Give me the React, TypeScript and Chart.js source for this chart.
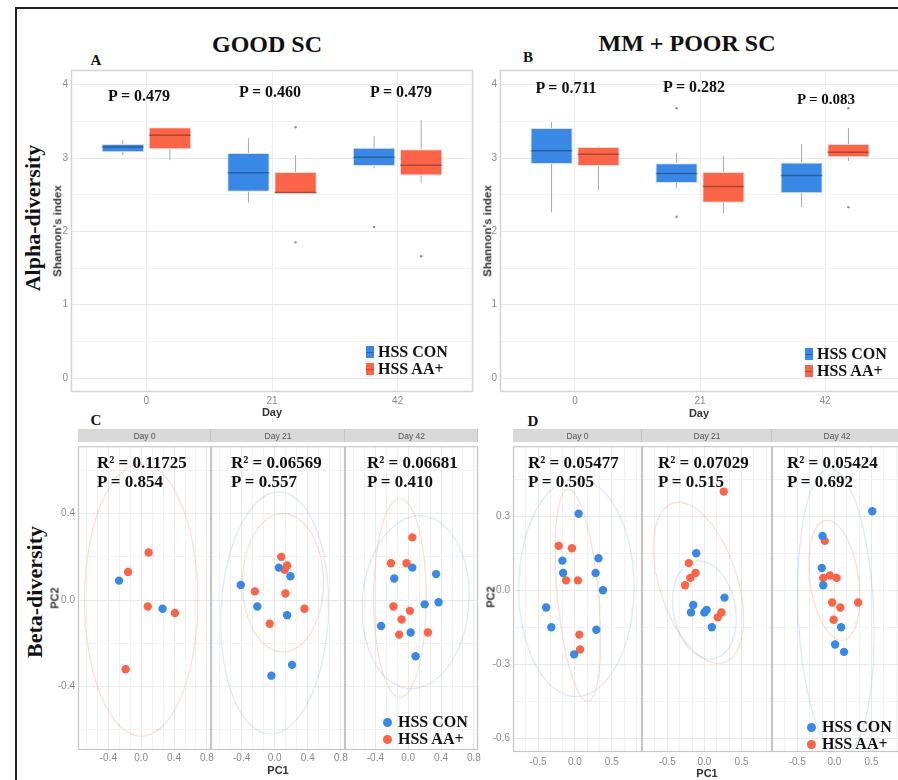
import React, { useEffect, useRef } from 'react';
import { Chart, registerables } from 'chart.js';

Chart.register(...registerables);

const SERIF = "'Liberation Serif', 'Times New Roman', serif";
const SANS = "'Liberation Sans', Arial, sans-serif";
const NARROW = "'Liberation Sans Narrow', 'Liberation Sans', Arial, sans-serif";
const BLUE = '#3a88e6';
const RED = '#fb6446';
const BLUE_ELL = 'rgba(90,150,225,0.22)';
const RED_ELL = 'rgba(245,120,100,0.25)';

// ---------- Alpha diversity (Shannon's index) ----------
const days = ['0', '21', '42'];
const groupLabels = ['HSS CON', 'HSS AA+'];
const shannonTicks = [0, 1, 2, 3, 4];

const goodP = ['P = 0.479', 'P = 0.460', 'P = 0.479'];
const goodConQ1 = [3.08, 2.54, 2.89];
const goodConQ3 = [3.19, 3.07, 3.14];
const goodConMed = [3.15, 2.8, 3.01];
const goodConLo = [3.04, 2.39, 2.86];
const goodConHi = [3.25, 3.27, 3.3];
const goodConOut = [[], [], [2.06]];
const goodAaQ1 = [3.12, 2.51, 2.76];
const goodAaQ3 = [3.42, 2.81, 3.12];
const goodAaMed = [3.31, 2.53, 2.9];
const goodAaLo = [2.97, 2.51, 2.66];
const goodAaHi = [3.42, 3.04, 3.52];
const goodAaOut = [[], [3.42, 1.85], [1.66]];

const poorP = ['P = 0.711', 'P = 0.282', 'P = 0.083'];
const poorConQ1 = [2.92, 2.66, 2.52];
const poorConQ3 = [3.41, 2.93, 2.94];
const poorConMed = [3.1, 2.79, 2.76];
const poorConLo = [2.26, 2.59, 2.33];
const poorConHi = [3.49, 3.07, 3.19];
const poorConOut = [[], [3.68, 2.2], []];
const poorAaQ1 = [2.89, 2.39, 3.01];
const poorAaQ3 = [3.15, 2.81, 3.19];
const poorAaMed = [3.05, 2.61, 3.08];
const poorAaLo = [2.56, 2.25, 2.96];
const poorAaHi = [3.16, 3.03, 3.41];
const poorAaOut = [[], [], [3.68, 2.33]];

// ---------- Beta diversity (PCA) ----------
const facetLabels = ['Day 0', 'Day 21', 'Day 42'];
const goodR2 = ['R\u00b2 = 0.11725', 'R\u00b2 = 0.06569', 'R\u00b2 = 0.06681'];
const goodBetaP = ['P = 0.854', 'P = 0.557', 'P = 0.410'];
const poorR2 = ['R\u00b2 = 0.05477', 'R\u00b2 = 0.07029', 'R\u00b2 = 0.05424'];
const poorBetaP = ['P = 0.505', 'P = 0.515', 'P = 0.692'];

// [PC1, PC2]
const goodDay0Con = [[-0.27, 0.09], [0.26, -0.04]];
const goodDay0Aa = [[-0.16, 0.13], [0.09, 0.22], [0.08, -0.03], [0.41, -0.06], [-0.19, -0.32]];
const goodDay21Con = [[-0.41, 0.07], [0.05, 0.15], [0.19, 0.11], [-0.21, -0.03], [0.15, -0.07], [-0.04, -0.35], [0.21, -0.3]];
const goodDay21Aa = [[-0.24, 0.04], [0.08, 0.2], [0.15, 0.16], [0.12, 0.14], [0.13, 0.03], [0.36, -0.04], [-0.06, -0.11]];
const goodDay42Con = [[0.05, 0.15], [-0.17, 0.1], [0.34, 0.12], [0.2, -0.02], [0.37, -0.01], [-0.33, -0.12], [0.03, -0.15], [0.09, -0.26]];
const goodDay42Aa = [[0.05, 0.29], [-0.21, 0.17], [-0.02, 0.17], [-0.18, -0.03], [0.02, -0.05], [-0.08, -0.09], [-0.11, -0.16], [0.24, -0.15]];

const poorDay0Con = [[0.05, 0.31], [-0.17, 0.12], [0.32, 0.13], [-0.16, 0.07], [0.28, 0.07], [0.38, 0.0], [-0.39, -0.07], [-0.32, -0.15], [0.29, -0.16], [-0.01, -0.26]];
const poorDay0Aa = [[-0.22, 0.18], [-0.04, 0.17], [-0.12, 0.04], [0.04, 0.04], [0.06, -0.18], [0.07, -0.24]];
const poorDay21Con = [[-0.11, 0.15], [0.27, -0.03], [-0.15, -0.06], [-0.18, -0.09], [0.03, -0.08], [0.0, -0.09], [0.1, -0.15]];
const poorDay21Aa = [[0.26, 0.4], [-0.21, 0.11], [-0.12, 0.07], [-0.19, 0.05], [-0.26, 0.02], [0.23, -0.09], [0.18, -0.11]];
const poorDay42Con = [[0.51, 0.32], [-0.16, 0.22], [-0.17, 0.09], [-0.15, 0.02], [0.09, -0.15], [0.01, -0.22], [0.13, -0.25]];
const poorDay42Aa = [[-0.13, 0.2], [-0.15, 0.05], [-0.06, 0.06], [0.03, 0.05], [-0.03, -0.05], [0.08, -0.07], [0.32, -0.05], [-0.01, -0.12]];

// confidence ellipses: [centre PC1, centre PC2, a_x, a_y, b_x, b_y]
const goodDay0ConEll: number[] | null = null;
const goodDay0AaEll = [0.0, 0.0, 0.0, 0.63, 0.69, 0.0];
const goodDay21ConEll = [0.0, -0.06, 0.05, 0.56, 0.65, 0.0];
const goodDay21AaEll = [0.1, 0.08, 0.0, 0.32, 0.49, 0.0];
const goodDay42ConEll = [0.09, -0.01, 0.05, 0.4, 0.65, 0.0];
const goodDay42AaEll = [-0.1, 0.01, 0.0, 0.46, 0.32, 0.0];
const poorDay0ConEll = [0.02, 0.01, -0.05, 0.44, 0.78, 0.03];
const poorDay0AaEll = [0.04, -0.02, -0.13, 0.43, 0.28, 0.0];
const poorDay21ConEll = [0.0, -0.08, 0.2, -0.19, -0.38, -0.06];
const poorDay21AaEll = [-0.08, 0.03, 0.345, -0.323, -0.5, -0.047];
const poorDay42ConEll = [0.02, -0.09, -0.12, 0.58, 0.5, 0.05];
const poorDay42AaEll = [0.0, 0.04, -0.2, 0.23, 0.28, 0.08];

// ---------- helpers ----------
const tickFont = { family: NARROW, size: 10 };
const isMajor = (v: number, step: number) => Math.abs(v / step - Math.round(v / step)) < 1e-3;
const fmt1 = (v: number) => {
  const r = Math.round(v * 10) / 10;
  return (Math.abs(r) < 1e-9 ? 0 : r).toFixed(1);
};

const frame = {
  id: 'frame',
  afterDraw(chart: any, _a: any, opts: any) {
    const { left, top, right, bottom } = chart.chartArea;
    const ctx = chart.ctx;
    ctx.save();
    ctx.strokeStyle = opts.color || '#ccc';
    ctx.lineWidth = opts.width || 1;
    ctx.strokeRect(left + 0.5, top + 0.5, right - left - 1, bottom - top - 1);
    ctx.restore();
  },
};

const boxExtras = {
  id: 'boxExtras',
  afterDatasetsDraw(chart: any) {
    const ctx = chart.ctx;
    const ys = chart.scales.y;
    chart.data.datasets.forEach((ds: any, di: number) => {
      const meta = chart.getDatasetMeta(di);
      meta.data.forEach((el: any, i: number) => {
        const { x, width } = el.getProps(['x', 'width'], true);
        const q1 = ds.data[i].y[0];
        const q3 = ds.data[i].y[1];
        ctx.save();
        ctx.strokeStyle = '#a9a9a9';
        ctx.lineWidth = 1;
        ctx.beginPath();
        ctx.moveTo(x, ys.getPixelForValue(q3));
        ctx.lineTo(x, ys.getPixelForValue(ds.hi[i]));
        ctx.moveTo(x, ys.getPixelForValue(q1));
        ctx.lineTo(x, ys.getPixelForValue(ds.lo[i]));
        ctx.stroke();
        ctx.strokeStyle = 'rgba(0,0,0,0.3)';
        ctx.lineWidth = 1.5;
        const my = ys.getPixelForValue(ds.med[i]);
        ctx.beginPath();
        ctx.moveTo(x - width / 2, my);
        ctx.lineTo(x + width / 2, my);
        ctx.stroke();
        ctx.fillStyle = '#8c8c8c';
        ds.out[i].forEach((v: number) => {
          ctx.beginPath();
          ctx.arc(x, ys.getPixelForValue(v), 1.2, 0, Math.PI * 2);
          ctx.fill();
        });
        ctx.restore();
      });
    });
  },
};

type BoxSet = { q1: number[]; q3: number[]; med: number[]; lo: number[]; hi: number[]; out: number[][] };

function boxConfig(sets: BoxSet[], yAxisW: number, padRight: number) {
  return {
    type: 'bar',
    data: {
      datasets: sets.map((s, gi) => ({
        label: groupLabels[gi],
        data: s.q1.map((q, i) => ({ x: i + 1, y: [q, s.q3[i]] })),
        backgroundColor: gi === 0 ? BLUE : RED,
        borderColor: 'rgba(0,0,0,0.12)',
        borderWidth: 1,
        borderSkipped: false,
        categoryPercentage: 0.75,
        barPercentage: 0.9,
        med: s.med,
        lo: s.lo,
        hi: s.hi,
        out: s.out,
      })),
    },
    plugins: [boxExtras, frame],
    options: {
      animation: false,
      responsive: false,
      devicePixelRatio: 1,
      events: [],
      layout: { padding: { top: 10, right: padRight, left: 0, bottom: 0 } },
      plugins: {
        legend: { display: false },
        tooltip: { enabled: false },
        frame: { color: '#d3d3d3', width: 1.5 },
      },
      scales: {
        x: {
          type: 'linear',
          min: 0.4,
          max: 3.6,
          offset: false,
          afterBuildTicks: (s: any) => {
            s.ticks = days.map((_, i) => ({ value: i + 1 }));
          },
          afterFit: (s: any) => {
            s.height = 28;
            s.paddingLeft = 0;
            s.paddingRight = 0;
          },
          ticks: {
            callback: (v: number) => days[Math.round(v) - 1] ?? '',
            color: '#8a8a8a',
            font: tickFont,
            padding: 3,
            autoSkip: false,
            maxRotation: 0,
          },
          grid: { color: '#ececec', drawTicks: false, offset: false },
          border: { display: false },
        },
        y: {
          type: 'linear',
          min: -0.19,
          max: 4.2,
          afterFit: (s: any) => {
            s.width = yAxisW;
            s.paddingTop = 0;
            s.paddingBottom = 0;
          },
          ticks: {
            stepSize: 0.5,
            includeBounds: false,
            autoSkip: false,
            callback: (v: number) => (shannonTicks.some((t) => Math.abs(t - v) < 1e-6) ? String(Math.round(v)) : ''),
            color: '#8a8a8a',
            font: tickFont,
            padding: 3,
          },
          grid: {
            color: (c: any) => (c.tick && isMajor(c.tick.value, 1) ? '#e8e8e8' : '#f2f2f2'),
            drawTicks: false,
          },
          border: { display: false },
        },
      },
    },
  };
}

function ellipsePoints(e: number[] | null) {
  if (!e) return [];
  const [cx, cy, ax, ay, bx, by] = e;
  const pts = [];
  for (let k = 0; k <= 96; k++) {
    const t = (k / 96) * Math.PI * 2;
    pts.push({ x: cx + ax * Math.cos(t) + bx * Math.sin(t), y: cy + ay * Math.cos(t) + by * Math.sin(t) });
  }
  return pts;
}

type FacetOpts = {
  con: number[][];
  aa: number[][];
  conEll: number[] | null;
  aaEll: number[] | null;
  xMin: number;
  xMax: number;
  xStep: number;
  xMajor: number;
  yMin: number;
  yMax: number;
  yStep: number;
  yMajor: number;
  showY: boolean;
  yAxisW: number;
  xAxisH: number;
  xPad: number;
};

function facetConfig(o: FacetOpts) {
  return {
    type: 'scatter',
    data: {
      datasets: [
        {
          label: groupLabels[0],
          data: o.con.map(([x, y]) => ({ x, y })),
          backgroundColor: BLUE,
          borderWidth: 0,
          pointRadius: 4.2,
        },
        {
          label: groupLabels[1],
          data: o.aa.map(([x, y]) => ({ x, y })),
          backgroundColor: RED,
          borderWidth: 0,
          pointRadius: 4.2,
        },
        {
          label: 'ell-con',
          data: ellipsePoints(o.conEll),
          showLine: true,
          pointRadius: 0,
          borderColor: BLUE_ELL,
          borderWidth: 1.2,
          fill: false,
        },
        {
          label: 'ell-aa',
          data: ellipsePoints(o.aaEll),
          showLine: true,
          pointRadius: 0,
          borderColor: RED_ELL,
          borderWidth: 1.2,
          fill: false,
        },
      ],
    },
    plugins: [frame],
    options: {
      animation: false,
      responsive: false,
      devicePixelRatio: 1,
      events: [],
      layout: { padding: { top: 0, right: 10, left: 0, bottom: 0 } },
      plugins: {
        legend: { display: false },
        tooltip: { enabled: false },
        frame: { color: '#c6c6c6', width: 1.2 },
      },
      scales: {
        x: {
          type: 'linear',
          min: o.xMin,
          max: o.xMax,
          afterFit: (s: any) => {
            s.height = o.xAxisH;
            s.paddingLeft = 0;
            s.paddingRight = 0;
          },
          ticks: {
            stepSize: o.xStep,
            includeBounds: false,
            autoSkip: false,
            maxRotation: 0,
            callback: (v: number) => (isMajor(v, o.xMajor) ? fmt1(v) : ''),
            color: '#8a8a8a',
            font: tickFont,
            padding: o.xPad,
          },
          grid: {
            color: (c: any) => (c.tick && isMajor(c.tick.value, o.xMajor) ? '#e9e9e9' : '#f1f1f1'),
            drawTicks: false,
          },
          border: { display: false },
        },
        y: {
          type: 'linear',
          min: o.yMin,
          max: o.yMax,
          afterFit: (s: any) => {
            s.width = o.yAxisW;
            s.paddingTop = 0;
            s.paddingBottom = 0;
          },
          ticks: {
            display: o.showY,
            stepSize: o.yStep,
            includeBounds: false,
            autoSkip: false,
            callback: (v: number) => (isMajor(v, o.yMajor) ? fmt1(v) : ''),
            color: '#8a8a8a',
            font: tickFont,
            padding: 3,
          },
          grid: {
            color: (c: any) => (c.tick && isMajor(c.tick.value, o.yMajor) ? '#e9e9e9' : '#f1f1f1'),
            drawTicks: false,
          },
          border: { display: false },
        },
      },
    },
  };
}

function ChartBox({ left, top, width, height, make }: { left: number; top: number; width: number; height: number; make: () => any }) {
  const ref = useRef<HTMLCanvasElement>(null);
  useEffect(() => {
    const chart = new Chart(ref.current as HTMLCanvasElement, make());
    return () => chart.destroy();
  }, []);
  return <canvas ref={ref} width={width} height={height} style={{ position: 'absolute', left, top, width, height }} />;
}

function Txt({
  x, y, children, size = 16, bold = true, family = SERIF, color = '#111', align = 'center', rotate = 0,
}: {
  x: number; y: number; children: React.ReactNode; size?: number; bold?: boolean; family?: string; color?: string; align?: 'center' | 'left'; rotate?: number;
}) {
  const tx = align === 'center' ? '-50%' : '0';
  return (
    <div
      style={{
        position: 'absolute', left: x, top: y, transform: `translate(${tx},-50%) rotate(${rotate}deg)`,
        fontFamily: family, fontSize: size, fontWeight: bold ? 700 : 400, color, whiteSpace: 'nowrap', lineHeight: 1,
      }}
    >
      {children}
    </div>
  );
}

function BoxLegend({ x, y }: { x: number; y: number }) {
  return (
    <>
      {[BLUE, RED].map((c, i) => (
        <React.Fragment key={i}>
          <div style={{ position: 'absolute', left: x, top: y + i * 17 - 6, width: 8, height: 12, background: c }} />
          <div style={{ position: 'absolute', left: x, top: y + i * 17, width: 8, height: 1, background: 'rgba(0,0,0,0.25)' }} />
          <Txt x={x + 12} y={y + i * 17} align="left" size={16}>{groupLabels[i]}</Txt>
        </React.Fragment>
      ))}
    </>
  );
}

function DotLegend({ x, y }: { x: number; y: number }) {
  return (
    <>
      {[BLUE, RED].map((c, i) => (
        <React.Fragment key={i}>
          <div style={{ position: 'absolute', left: x - 4.5, top: y + i * 17 - 4.5, width: 9, height: 9, borderRadius: '50%', background: c }} />
          <Txt x={x + 11} y={y + i * 17} align="left" size={16}>{groupLabels[i]}</Txt>
        </React.Fragment>
      ))}
    </>
  );
}

const cRange = { xMin: -0.77, xMax: 0.85, xStep: 0.4 / 3, xMajor: 0.4, yMin: -0.694, yMax: 0.712, yStep: 0.2, yMajor: 0.4, xAxisH: 22, xPad: 2 };
const dRange = { xMin: -0.84, xMax: 0.91, xStep: 0.5 / 3, xMajor: 0.5, yMin: -0.656, yMax: 0.584, yStep: 0.15, yMajor: 0.3, xAxisH: 20, xPad: 4 };

const goodFacets = [
  { con: goodDay0Con, aa: goodDay0Aa, conEll: goodDay0ConEll, aaEll: goodDay0AaEll },
  { con: goodDay21Con, aa: goodDay21Aa, conEll: goodDay21ConEll, aaEll: goodDay21AaEll },
  { con: goodDay42Con, aa: goodDay42Aa, conEll: goodDay42ConEll, aaEll: goodDay42AaEll },
];
const poorFacets = [
  { con: poorDay0Con, aa: poorDay0Aa, conEll: poorDay0ConEll, aaEll: poorDay0AaEll },
  { con: poorDay21Con, aa: poorDay21Aa, conEll: poorDay21ConEll, aaEll: poorDay21AaEll },
  { con: poorDay42Con, aa: poorDay42Aa, conEll: poorDay42ConEll, aaEll: poorDay42AaEll },
];

// facet geometry: [canvas left, canvas width, y-axis width, plot left, plot right]
const cFacetBoxes = [[38, 183, 40, 78, 211], [201, 154, 10, 211, 345], [335, 153, 10, 345, 478]];
const dFacetBoxes = [[473, 179, 40, 513, 642], [632, 150, 10, 642, 772], [762, 150, 10, 772, 902]];
const cTextX = [97, 231, 367];
const dTextX = [528, 658, 787];

export default function App() {
  const goodSets: BoxSet[] = [
    { q1: goodConQ1, q3: goodConQ3, med: goodConMed, lo: goodConLo, hi: goodConHi, out: goodConOut },
    { q1: goodAaQ1, q3: goodAaQ3, med: goodAaMed, lo: goodAaLo, hi: goodAaHi, out: goodAaOut },
  ];
  const poorSets: BoxSet[] = [
    { q1: poorConQ1, q3: poorConQ3, med: poorConMed, lo: poorConLo, hi: poorConHi, out: poorConOut },
    { q1: poorAaQ1, q3: poorAaQ3, med: poorAaMed, lo: poorAaLo, hi: poorAaHi, out: poorAaOut },
  ];
  return (
    <div style={{ position: 'absolute', left: 0, top: 0, width: 898, height: 780, overflow: 'hidden', background: '#fff' }}>
      <div style={{ position: 'absolute', left: 15, top: 7, width: 900, height: 800, borderLeft: '2px solid #222', borderTop: '2px solid #222' }} />

      {/* Titles */}
      <Txt x={267} y={44} size={24}>GOOD SC</Txt>
      <Txt x={687} y={43} size={24}>MM + POOR SC</Txt>
      <Txt x={96} y={60} size={15}>A</Txt>
      <Txt x={528} y={57} size={15}>B</Txt>
      <Txt x={96} y={420} size={15}>C</Txt>
      <Txt x={533} y={421} size={15}>D</Txt>
      <Txt x={33} y={218} size={22} rotate={-90}>Alpha-diversity</Txt>
      <Txt x={35} y={592} size={22} rotate={-90}>Beta-diversity</Txt>

      {/* Panel A */}
      <ChartBox left={30} top={60} width={455} height={360} make={() => boxConfig(goodSets, 41, 12)} />
      {/* Panel B */}
      <ChartBox left={460} top={60} width={460} height={360} make={() => boxConfig(poorSets, 40, 20)} />

      <Txt x={139} y={96} size={16}>{goodP[0]}</Txt>
      <Txt x={270} y={92} size={16}>{goodP[1]}</Txt>
      <Txt x={401} y={92} size={16}>{goodP[2]}</Txt>
      <Txt x={566} y={88} size={16}>{poorP[0]}</Txt>
      <Txt x={694} y={87} size={16}>{poorP[1]}</Txt>
      <Txt x={826} y={99} size={15}>{poorP[2]}</Txt>

      <Txt x={58} y={231} size={11.5} family={SANS} color="#333" rotate={-90}>Shannon's index</Txt>
      <Txt x={488} y={231} size={11.5} family={SANS} color="#333" rotate={-90}>Shannon's index</Txt>
      <Txt x={272} y={412} size={11} family={NARROW} color="#333">Day</Txt>
      <Txt x={699} y={413} size={11} family={NARROW} color="#333">Day</Txt>

      <BoxLegend x={366} y={352} />
      <BoxLegend x={805} y={354} />

      {/* Panel C strips + facets */}
      {cFacetBoxes.map((b, i) => (
        <React.Fragment key={'cs' + i}>
          <div style={{ position: 'absolute', left: b[3], top: 429, width: b[4] - b[3], height: 13, background: '#d9d9d9', borderRight: '1px solid #c4c4c4', boxSizing: 'border-box' }} />
          <Txt x={(b[3] + b[4]) / 2} y={436} size={8.5} bold={false} family={NARROW} color="#555">{facetLabels[i]}</Txt>
        </React.Fragment>
      ))}
      {cFacetBoxes.map((b, i) => (
        <ChartBox
          key={'c' + i}
          left={b[0]}
          top={442}
          width={b[1]}
          height={330}
          make={() => facetConfig({ ...goodFacets[i], ...cRange, showY: i === 0, yAxisW: b[2] })}
        />
      ))}
      {cFacetBoxes.map((b, i) => (
        <React.Fragment key={'ct' + i}>
          <Txt x={cTextX[i]} y={462} align="left" size={17}>{goodR2[i]}</Txt>
          <Txt x={cTextX[i]} y={481} align="left" size={17}>{goodBetaP[i]}</Txt>
        </React.Fragment>
      ))}
      <Txt x={55} y={598} size={11} family={NARROW} color="#333" rotate={-90}>PC2</Txt>
      <Txt x={278} y={770} size={11} family={NARROW} color="#333">PC1</Txt>
      <DotLegend x={387} y={722} />

      {/* Panel D strips + facets */}
      {dFacetBoxes.map((b, i) => (
        <React.Fragment key={'ds' + i}>
          <div style={{ position: 'absolute', left: b[3], top: 429, width: b[4] - b[3], height: 13, background: '#d9d9d9', borderRight: '1px solid #c4c4c4', boxSizing: 'border-box' }} />
          <Txt x={(b[3] + b[4]) / 2} y={436} size={8.5} bold={false} family={NARROW} color="#555">{facetLabels[i]}</Txt>
        </React.Fragment>
      ))}
      {dFacetBoxes.map((b, i) => (
        <ChartBox
          key={'d' + i}
          left={b[0]}
          top={442}
          width={b[1]}
          height={330}
          make={() => facetConfig({ ...poorFacets[i], ...dRange, showY: i === 0, yAxisW: b[2] })}
        />
      ))}
      {dFacetBoxes.map((b, i) => (
        <React.Fragment key={'dt' + i}>
          <Txt x={dTextX[i]} y={462} align="left" size={17}>{poorR2[i]}</Txt>
          <Txt x={dTextX[i]} y={481} align="left" size={17}>{poorBetaP[i]}</Txt>
        </React.Fragment>
      ))}
      <Txt x={491} y={597} size={11} family={NARROW} color="#333" rotate={-90}>PC2</Txt>
      <Txt x={707} y={773} size={11} family={NARROW} color="#333">PC1</Txt>
      <DotLegend x={811} y={727} />
    </div>
  );
}
